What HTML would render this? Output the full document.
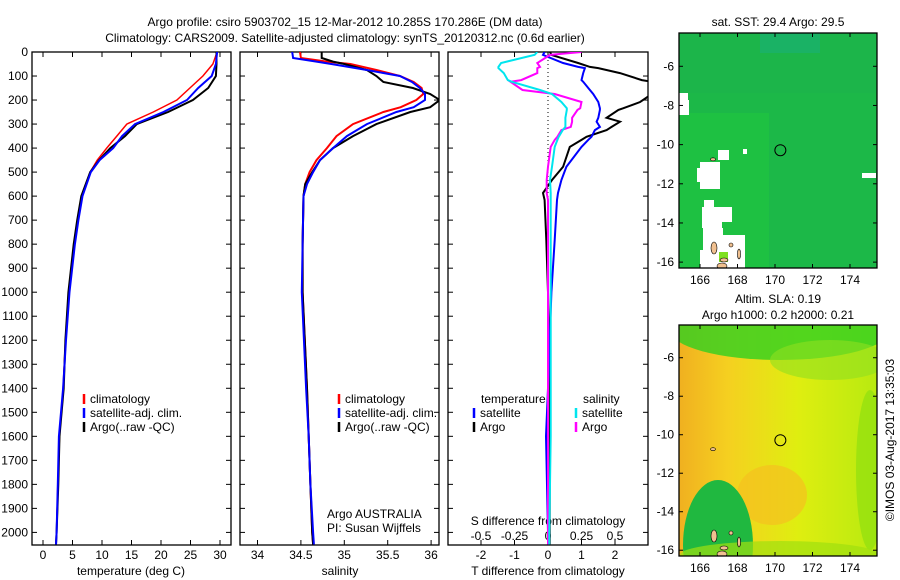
<!DOCTYPE html>
<html><head><meta charset="utf-8"><style>
html,body{margin:0;padding:0;background:#fff;width:900px;height:580px;overflow:hidden;}
svg{display:block;overflow:hidden;font-family:"Liberation Sans",Arial,sans-serif;font-size:12px;}
</style></head><body>
<svg id="c" width="900" height="580" viewBox="0 0 900 580">
<text x="345" y="26" text-anchor="middle">Argo profile: csiro 5903702_15 12-Mar-2012 10.285S 170.286E (DM data)</text>
<text x="345" y="42" text-anchor="middle">Climatology: CARS2009. Satellite-adjusted climatology: synTS_20120312.nc (0.6d earlier)</text>
<text x="778" y="26" text-anchor="middle">sat. SST: 29.4 Argo: 29.5</text>
<text x="778" y="303" text-anchor="middle">Altim. SLA: 0.19</text>
<text x="778" y="319" text-anchor="middle">Argo h1000: 0.2 h2000: 0.21</text>
<text transform="translate(894,440) rotate(-90)" text-anchor="middle">©IMOS 03-Aug-2017 13:35:03</text>
<g id="g"></g>
</svg>
<script>
// ---- data ----
const tDepth=[0,50,100,150,200,250,300,350,400,450,500,600,700,800,1000,1200,1400,1600,1800,2000,2050];
const tClim=[29.5,28.8,27.1,24.9,22.7,18.7,14.2,12.5,10.8,9.2,8.0,6.6,5.9,5.3,4.4,3.8,3.4,2.8,2.5,2.3,2.2];
const tSat=[29.5,29.3,28.6,26.3,24.4,20.4,15.6,13.4,11.9,9.6,8.1,6.7,6.0,5.4,4.5,3.9,3.4,2.7,2.5,2.3,2.2];
const tArgo=[29.4,29.4,29.3,28.0,25.4,21.2,15.9,13.9,11.4,9.5,8.0,6.5,5.8,5.2,4.3,3.8,3.5,2.8,2.6,2.3,2.2];
const sDepth=[0,25,40,50,75,100,125,150,175,200,230,250,300,350,400,450,500,550,600,800,1000,1400,1600,1800,2000,2050];
const sClim=[34.49,34.5,34.8,35.07,35.37,35.64,35.8,35.89,35.91,35.83,35.65,35.45,35.1,34.91,34.8,34.68,34.6,34.55,34.53,34.52,34.52,34.57,34.59,34.61,34.63,34.64];
const sSat=[34.4,34.41,34.68,34.85,35.26,35.64,35.78,35.87,35.93,35.93,35.8,35.6,35.26,35.03,34.87,34.72,34.64,34.57,34.53,34.52,34.51,34.56,34.59,34.61,34.64,34.65];
const sArgo=[34.74,34.74,34.87,35.0,35.26,35.37,35.45,35.79,35.99,36.1,35.99,35.76,35.37,35.1,34.87,34.72,34.63,34.55,34.53,34.52,34.52,34.57,34.59,34.61,34.63,34.64];
const dDepth=[0,12,46,62,67,88,117,124,158,175,208,234,241,274,290,312,325,353,366,395,478,533,587,616,783,1000,1400,1600,2000,2050];
const dTSat=[-0.1,-0.15,0.45,0.9,1.1,1.05,1.0,1.05,1.25,1.35,1.5,1.55,1.55,1.5,1.45,1.55,1.4,1.3,1.2,1.0,0.55,0.4,0.3,0.27,0.2,0.1,0.0,-0.06,0.0,0.0];
const dTArgo=[0.06,0.1,0.9,1.25,1.5,2.15,2.8,3.1,3.2,3.1,2.75,2.25,2.1,1.75,2.15,1.9,1.75,1.15,1.0,0.65,0.45,0.12,-0.15,-0.1,-0.05,0.0,0.05,0.05,0.05,0.05];
const dSSat=[-0.08,-0.1,-0.35,-0.37,-0.37,-0.33,-0.3,-0.27,-0.06,0.03,0.1,0.14,0.14,0.13,0.13,0.13,0.11,0.08,0.07,0.05,0.03,0.015,0.02,0.02,0.02,0.02,0.02,0.02,0.01,0.01];
const dSArgo=[0.25,0.015,-0.08,-0.06,-0.08,-0.08,-0.2,-0.28,-0.19,0.05,0.25,0.24,0.22,0.18,0.18,0.17,0.1,0.07,0.05,0.02,0.0,-0.01,-0.01,0,0,0,0,0,0,0];
const depthTicks=[0,100,200,300,400,500,600,700,800,900,1000,1100,1200,1300,1400,1500,1600,1700,1800,1900,2000];
const tTicks=[0,5,10,15,20,25,30];
const sTicks=[34,34.5,35,35.5,36];
const dTTicks=[-2,-1,0,1,2];
const dSTicks=[-0.5,-0.25,0,0.25,0.5];
const lonTicks=[166,168,170,172,174];
const latTicks=[-6,-8,-10,-12,-14,-16];
const argoLon=170.286, argoLat=-10.285;

const NS="http://www.w3.org/2000/svg";
const G=document.getElementById('g');
function mk(tag,attrs,parent){const e=document.createElementNS(NS,tag);for(const k in attrs)e.setAttribute(k,attrs[k]);(parent||G).appendChild(e);return e;}
const top0=52,bot=545;
const yD=d=>top0+d*0.2402;
const panels=[{x0:32,x1:231},{x0:240,x1:439},{x0:448,x1:648}];
const xT=v=>43+v*5.9;
const xS=v=>257.5+(v-34)*86.8;
const xDT=v=>548+v*33.5;
const xDS=v=>548+v*134;

const defs=mk('defs',{});
panels.forEach((p,i)=>{const cp=mk('clipPath',{id:'cp'+i},defs);mk('rect',{x:p.x0,y:top0,width:p.x1-p.x0,height:bot-top0},cp);});

function line(xs,ds,xf,col,w,clip,name){
  const pts=xs.map((v,i)=>xf(v).toFixed(1)+','+yD(ds[i]).toFixed(1)).join(' ');
  const e=mk('polyline',{points:pts,fill:'none',stroke:col,'stroke-width':w,'clip-path':'url(#'+clip+')'});
  
  
}
panels.forEach((p,i)=>{
  const f=mk('rect',{x:p.x0,y:top0,width:p.x1-p.x0,height:bot-top0,fill:'none',stroke:'#000','stroke-width':1.3});
  
  
  depthTicks.forEach(d=>{
    mk('line',{x1:p.x0,x2:p.x0+5,y1:yD(d),y2:yD(d),stroke:'#000'});
    mk('line',{x1:p.x1-5,x2:p.x1,y1:yD(d),y2:yD(d),stroke:'#000'});
  });
});
depthTicks.forEach(d=>{
  const t=mk('text',{x:28,y:yD(d)+4,'text-anchor':'end'});t.textContent=d;
  
  
});
function xticks(arr,xf,p,labelY,name){
  arr.forEach(v=>{const x=xf(v);
    mk('line',{x1:x,x2:x,y1:top0,y2:top0+5,stroke:'#000'});
    mk('line',{x1:x,x2:x,y1:bot-5,y2:bot,stroke:'#000'});
    const t=mk('text',{x:x,y:labelY,'text-anchor':'middle'});t.textContent=v;
    
    
  });
}
xticks(tTicks,xT,panels[0],559,'temperature-tick-label');
xticks(sTicks,xS,panels[1],559,'salinity-tick-label');
xticks(dTTicks,xDT,panels[2],559,'t-diff-tick-label');
dSTicks.forEach(v=>{const t=mk('text',{x:xDS(v),y:540,'text-anchor':'middle'});t.textContent=String(v);
  
  });
[['temperature (deg C)',131,'temperature-axis-title'],['salinity',340,'salinity-axis-title'],['T difference from climatology',548,'t-diff-axis-title']].forEach(a=>{
  const t=mk('text',{x:a[1],y:575,'text-anchor':'middle'});t.textContent=a[0];
  
  });
{const t=mk('text',{x:548,y:525,'text-anchor':'middle'});t.textContent='S difference from climatology';
 }
mk('line',{x1:548,x2:548,y1:top0,y2:bot,stroke:'#000','stroke-dasharray':'1,3'});

line(tClim,tDepth,xT,'#ff0000',1.5,'cp0','temp-climatology-line');
line(tArgo,tDepth,xT,'#000',2,'cp0','temp-argo-line');
line(tSat,tDepth,xT,'#0000ff',2,'cp0','temp-satellite-line');
line(sClim,sDepth,xS,'#ff0000',2,'cp1','sal-climatology-line');
line(sArgo,sDepth,xS,'#000',2,'cp1','sal-argo-line');
line(sSat,sDepth,xS,'#0000ff',2,'cp1','sal-satellite-line');
line(dTArgo,dDepth,xDT,'#000',2,'cp2','tdiff-argo-line');
line(dTSat,dDepth,xDT,'#0000ff',2,'cp2','tdiff-satellite-line');
line(dSArgo,dDepth,xDS,'#ff00ff',2,'cp2','sdiff-argo-line');
line(dSSat,dDepth,xDS,'#00e5ee',2,'cp2','sdiff-satellite-line');

function leg(x,y,col,txt,name){
  mk('line',{x1:x,x2:x,y1:y-9,y2:y+1,stroke:col,'stroke-width':2.5});
  const t=mk('text',{x:x+6,y:y});t.textContent=txt;
  
  
}
leg(84,403,'#ff0000','climatology','legend-climatology');
leg(84,417,'#0000ff','satellite-adj. clim.','legend-satellite');
leg(84,431,'#000','Argo(..raw -QC)','legend-argo');
leg(339,403,'#ff0000','climatology','legend2-climatology');
leg(339,417,'#0000ff','satellite-adj. clim.','legend2-satellite');
leg(339,431,'#000','Argo(..raw -QC)','legend2-argo');
{const t=mk('text',{x:481,y:403});t.textContent='temperature';}
{const t=mk('text',{x:583,y:403});t.textContent='salinity';}
leg(474,417,'#0000ff','satellite','legend3-t-satellite');
leg(474,431,'#000','Argo','legend3-t-argo');
leg(576,417,'#00e5ee','satellite','legend3-s-satellite');
leg(576,431,'#ff00ff','Argo','legend3-s-argo');
{const t=mk('text',{x:327,y:518});t.textContent='Argo AUSTRALIA';}
{const t=mk('text',{x:327,y:532});t.textContent='PI: Susan Wijffels';}

// ---- maps ----
const maps=[{y0:33,y1:268,name:'sst-map'},{y0:325,y1:556,name:'sla-map'}];
const mx=lon=>700+(lon-166)*18.75;
maps.forEach((m,mi)=>{
  const ky=(m.y1-m.y0)/12;
  const my=lat=>m.y0+(-lat-4.3)*ky;
  const cp=mk('clipPath',{id:'mc'+mi},defs);mk('rect',{x:679,y:m.y0,width:198,height:m.y1-m.y0},cp);
  const g=mk('g',{'clip-path':'url(#mc'+mi+')'});
  
  
  if(mi===0){
    mk('rect',{x:679,y:m.y0,width:198,height:m.y1-m.y0,fill:'#1cb848'},g);
    mk('rect',{x:679,y:m.y0,width:198,height:60,fill:'#1cb34c',opacity:.6},g);
    mk('rect',{x:679,y:m.y0+80,width:90,height:160,fill:'#20c640',opacity:.6},g);
    mk('rect',{x:760,y:m.y0,width:60,height:20,fill:'#19b070',opacity:.7},g);
    [[679,93,9,10],[679,100,10,15],[718,150,11,10],[700,162,20,27],[697,168,22,14],[704,200,10,30],[702,207,30,15],[702,220,20,8],[703,228,20,40],[700,250,45,20],[720,235,25,20],[743,149,4,5],[862,173,14,5]].forEach(r=>{
      mk('rect',{x:r[0],y:r[1],width:r[2],height:r[3],fill:'#fff'},g);});
    mk('rect',{x:719,y:252,width:9,height:10,fill:'#7fe020'},g);
  } else {
    const lg=mk('linearGradient',{id:'slaG',x1:0,y1:0,x2:1,y2:0},defs);
    [['0','#f0b020'],['0.25','#f5d020'],['0.6','#dfee10'],['1','#b8ea10']].forEach(s=>mk('stop',{offset:s[0],'stop-color':s[1]},lg));
    mk('rect',{x:679,y:m.y0,width:198,height:m.y1-m.y0,fill:'url(#slaG)'},g);
    mk('ellipse',{cx:772,cy:495,rx:35,ry:30,fill:'#f5c020',opacity:.7},g);
    mk('ellipse',{cx:780,cy:330,rx:110,ry:30,fill:'#30d020',opacity:.8},g);
    mk('ellipse',{cx:830,cy:360,rx:60,ry:20,fill:'#90e020',opacity:.6},g);
    mk('ellipse',{cx:718,cy:545,rx:35,ry:65,fill:'#20b840'},g);
    mk('ellipse',{cx:870,cy:470,rx:14,ry:80,fill:'#90e010',opacity:.7},g);
    mk('ellipse',{cx:780,cy:555,rx:100,ry:14,fill:'#a0e010',opacity:.7},g);
  }
  [[714,m.y1-20,3,6],[724,m.y1-8,4,2],[731,m.y1-23,2,2],[713,my(-10.75),2.5,1.5],[739,m.y1-14,1.5,5],[722,m.y1-2,5,3]].forEach(r=>{
    mk('ellipse',{cx:r[0],cy:r[1],rx:r[2],ry:r[3],fill:'#f0c090',stroke:'#000','stroke-width':.6},g);});
  const fr=mk('rect',{x:679,y:m.y0,width:198,height:m.y1-m.y0,fill:'none',stroke:'#000','stroke-width':1.3});
  
  
  lonTicks.forEach(l=>{const x=mx(l);
    mk('line',{x1:x,x2:x,y1:m.y0,y2:m.y0+4,stroke:'#000'});mk('line',{x1:x,x2:x,y1:m.y1-4,y2:m.y1,stroke:'#000'});
    const t=mk('text',{x:x,y:m.y1+16,'text-anchor':'middle'});t.textContent=l;
    });
  latTicks.forEach(l=>{const y=my(l);
    mk('line',{x1:679,x2:683,y1:y,y2:y,stroke:'#000'});mk('line',{x1:873,x2:877,y1:y,y2:y,stroke:'#000'});
    const t=mk('text',{x:674,y:y+4,'text-anchor':'end'});t.textContent=l;
    });
  const c=mk('circle',{cx:mx(argoLon),cy:my(argoLat),r:5.5,fill:'none',stroke:'#000','stroke-width':1});
  
  
});
</script>
</body></html>
